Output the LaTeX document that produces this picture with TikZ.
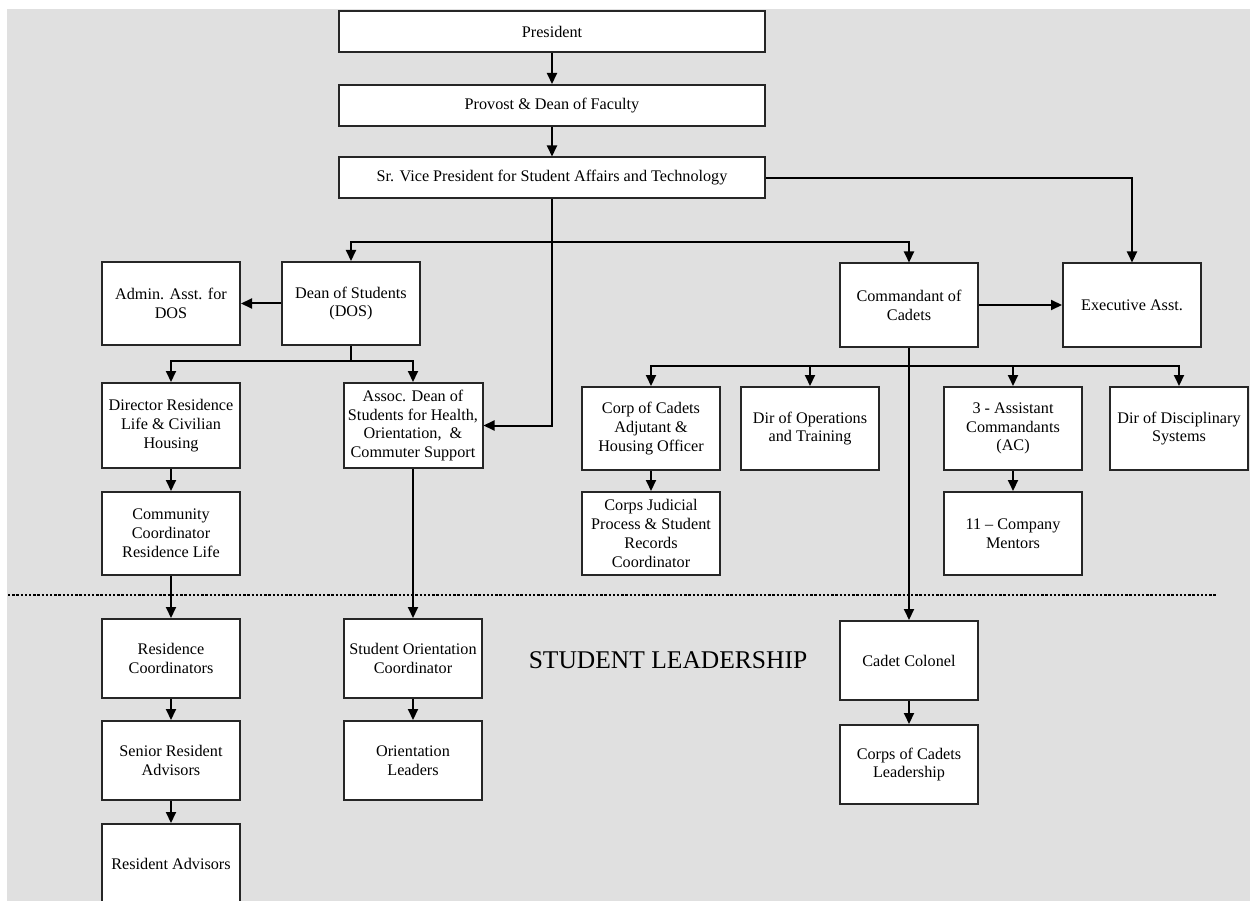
\documentclass[tikz,border=0pt]{standalone}
\usepackage{fontspec}
\setmainfont{Liberation Serif}
\usetikzlibrary{arrows.meta}

\begin{document}
\begin{tikzpicture}[x=1pt,y=-1pt,
        post/.style={draw=black!85, line width=2pt, fill=white, align=center,
            minimum width=138pt, minimum height=83pt, inner sep=2pt,
            font=\fontsize{16.2}{18.8}\selectfont},
        wide/.style={post, minimum width=426pt, minimum height=41pt},
        link/.style={line width=2pt, black},
        arr/.style={link, -{Triangle[length=11pt,width=10pt]}}]
        \fill[white] (0,0) rectangle (1250,901);
        \fill[black!12] (7,9) rectangle (1250,901);
        \useasboundingbox (0,0) rectangle (1250,901);
        % top of the chart
        \node[wide] (pres) at (552,31.5) {President};
        \node[wide] (prov) at (552,105.5) {Provost \& Dean of Faculty};
        \node[wide] (srvp) at (552,178) {Sr. Vice President for Student Affairs and Technology};
        \node[post] (adm) at (171,303.5) {Admin. Asst. for\\DOS};
        \node[post] (dos) at (351,303.5) {Dean of Students\\(DOS)};
        \node[post] (cmdt) at (909,305) {Commandant of\\Cadets};
        \node[post] (exec) at (1132,305) {Executive Asst.};
        \node[post, minimum height=85pt] (dirr) at (171,425.5) {Director Residence\\Life \& Civilian\\Housing};
        \node[post, minimum height=85pt, minimum width=139pt] (adean) at (413,425.5) {Assoc. Dean of\\Students for Health,\\Orientation,\ \ \&\\Commuter Support};
        \node[post] (adj) at (651,428.5) {Corp of Cadets\\Adjutant \&\\Housing Officer};
        \node[post] (ops) at (810,428.5) {Dir of Operations\\and Training};
        \node[post] (ac) at (1013,428.5) {3 - Assistant\\Commandants\\(AC)};
        \node[post] (disc) at (1179,428.5) {Dir of Disciplinary\\Systems};
        \node[post] (ccoord) at (171,533.5) {Community\\Coordinator\\Residence Life};
        \node[post] (jud) at (651,533.5) {Corps Judicial\\Process \& Student\\Records\\Coordinator};
        \node[post] (ment) at (1013,533.5) {11 -- Company\\Mentors};
        % student leadership
        \draw[line width=2.6pt, dash pattern=on 2.4pt off 1.8pt, black] (8,595) -- (1216,595);
        \node[font=\fontsize{25.5}{30}\selectfont] (slead) at (668,660) {STUDENT LEADERSHIP};
        \node[post, minimum height=79pt] (rescoord) at (171,658.5) {Residence\\Coordinators};
        \node[post, minimum height=79pt] (sra) at (171,760.5) {Senior Resident\\Advisors};
        \node[post, minimum height=80pt] (ra) at (171,864) {Resident Advisors};
        \node[post, minimum height=79pt] (soc) at (413,658.5) {Student Orientation\\Coordinator};
        \node[post, minimum height=79pt] (ol) at (413,760.5) {Orientation\\Leaders};
        \node[post, minimum height=79pt] (cadcol) at (909,660.5) {Cadet Colonel};
        \node[post, minimum height=79pt] (ccl) at (909,764.5) {Corps of Cadets\\Leadership};
        % junctions
        \coordinate (j1) at (552,242);
        \coordinate (j2) at (351,361);
        \coordinate (j3) at (909,366);
        % connectors
        \draw[arr] (pres) -- (prov);
        \draw[arr] (prov) -- (srvp);
        \draw[link] (srvp) -- (j1);
        \draw[arr] (j1) -| (dos);
        \draw[arr] (j1) -| (cmdt);
        \draw[arr] (j1) |- (adean);
        \draw[arr] (srvp) -| (exec);
        \draw[arr] (dos) -- (adm);
        \draw[link] (dos) -- (j2);
        \draw[arr] (j2) -| (dirr);
        \draw[arr] (j2) -| (adean);
        \draw[arr] (cmdt) -- (exec);
        \draw[arr] (cmdt) -- (cadcol);
        \foreach \n in {adj,ops,ac,disc}
            \draw[arr] (j3) -| (\n);
        \draw[arr] (dirr) -- (ccoord);
        \draw[arr] (adj) -- (jud);
        \draw[arr] (ac) -- (ment);
        \draw[arr] (ccoord) -- (rescoord);
        \draw[arr] (rescoord) -- (sra);
        \draw[arr] (sra) -- (ra);
        \draw[arr] (adean) -- (soc);
        \draw[arr] (soc) -- (ol);
        \draw[arr] (cadcol) -- (ccl);
    \end{tikzpicture}
\end{document}
